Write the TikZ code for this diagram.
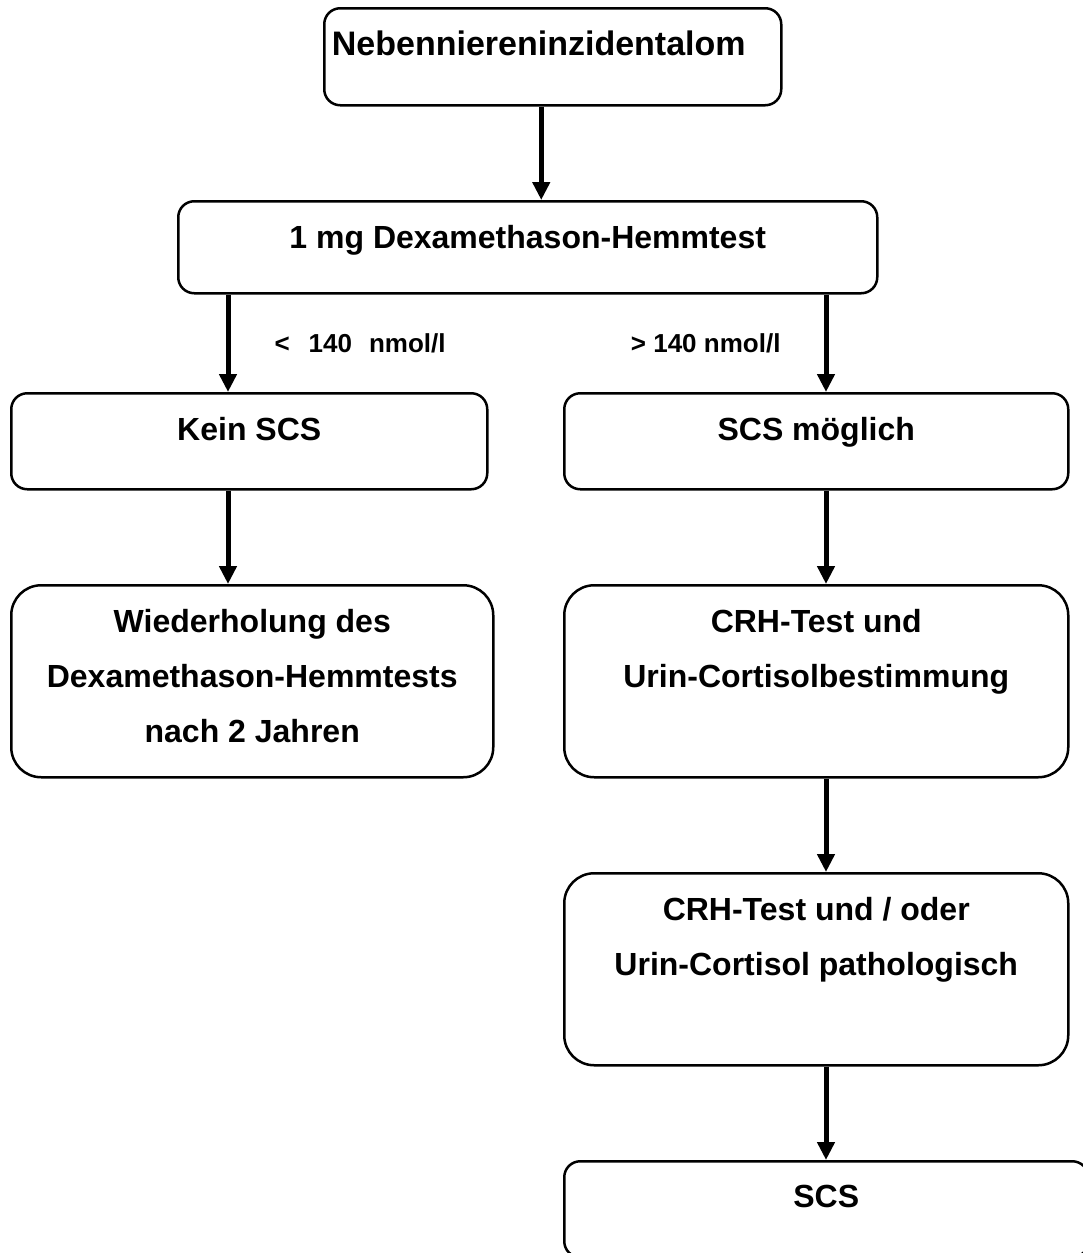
\documentclass[tikz,border=0pt]{standalone}
\usepackage{fontspec}
\setmainfont{Liberation Sans}
\usetikzlibrary{positioning, arrows.meta}
\tikzstyle{box}=[draw, line width=2.5pt, rounded corners=16pt, inner sep=0pt, anchor=north west]
\tikzstyle{tall box}=[box, rounded corners=30pt]
\tikzstyle{box text}=[font=\fontsize{32}{55}\selectfont\bfseries, align=center, inner sep=0pt]
\tikzstyle{cut label}=[font=\fontsize{26}{30}\selectfont\bfseries, inner sep=0pt]
\tikzstyle{flow}=[line width=5pt, -{Triangle[width=17pt,length=18pt]}]

\begin{document}
\begin{tikzpicture}[x=1pt, y=-1pt]
		\path[use as bounding box, clip] (0,0) rectangle (1083,1253);
		% Draw the boxes
		\node[box, minimum width=457pt, minimum height=97pt] (neben) at (323,7) {};
		\node[box, minimum width=699pt, minimum height=92pt] (dex) at (177,200) {};
		\node[box, minimum width=476pt, minimum height=96pt] (kein) at (10,392) {};
		\node[box, minimum width=504pt, minimum height=96pt] (moegl) at (563,392) {};
		\node[tall box, minimum width=482pt, minimum height=192pt] (wdh) at (10,584) {};
		\node[tall box, minimum width=504pt, minimum height=192pt] (crh) at (563,584) {};
		\node[tall box, minimum width=504pt, minimum height=192pt] (patho) at (563,872) {};
		\node[box, minimum width=524pt, minimum height=96pt] (scs) at (563,1160) {};
		% Texts, hanging from the top of each box
		\node[box text, font=\fontsize{34}{55}\selectfont\bfseries, below=24pt of neben.north, xshift=-14pt] (neben-t) {Nebenniereninzidentalom};
		\node[box text, below=25pt of dex.north] (dex-t) {1 mg Dexamethason-Hemmtest};
		\node[box text, below=25pt of kein.north] (kein-t) {Kein SCS};
		\node[box text, below=25pt of moegl.north] (moegl-t) {SCS möglich};
		\node[box text, below=25pt of wdh.north] (wdh-t) {Wiederholung des\\Dexamethason-Hemmtests\\nach 2 Jahren};
		\node[box text, below=25pt of crh.north] (crh-t) {CRH-Test und\\Urin-Cortisolbestimmung};
		\node[box text, below=25pt of patho.north] (patho-t) {CRH-Test und / oder\\Urin-Cortisol pathologisch};
		\node[box text, below=25pt of scs.north] (scs-t) {SCS};
		% Connect the boxes
		\coordinate (lx) at (228,0);
		\coordinate (rx) at (826,0);
		\draw[flow] ([xshift=-11.5pt]neben.south) -- ([xshift=-11.5pt]neben.south |- dex.north);
		\draw[flow] (dex.south -| lx) -- node[cut label, right=44pt] (low) {<\hspace{19pt}140\hspace{17pt}nmol/l} (kein.north -| lx);
		\draw[flow] (dex.south -| rx) -- node[cut label, left=43pt] (high) {> 140 nmol/l} (moegl.north -| rx);
		\draw[flow] (kein.south -| lx) -- (wdh.north -| lx);
		\foreach \from/\to in {moegl/crh, crh/patho, patho/scs}
		\draw[flow] (\from.south -| rx) -- (\to.north -| rx);
\end{tikzpicture}
\end{document}
